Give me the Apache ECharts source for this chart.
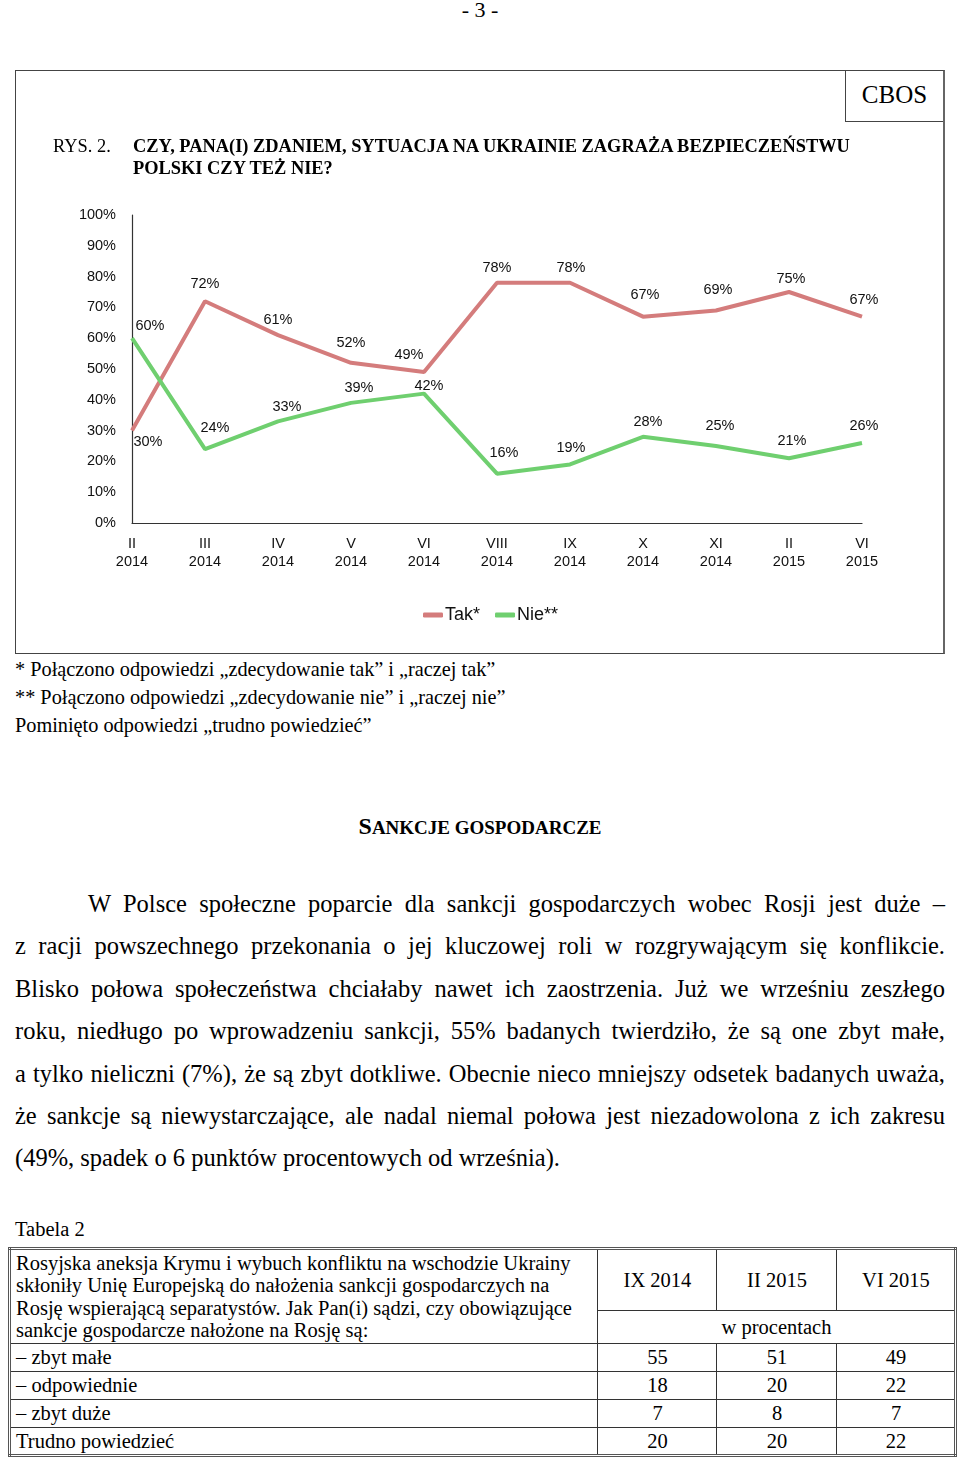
<!DOCTYPE html>
<html>
<head>
<meta charset="utf-8">
<script src="https://cdn.jsdelivr.net/npm/echarts@6/dist/echarts.min.js"></script>
<style>
  html, body { margin:0; padding:0; background:#fff; }
  body { width:960px; height:1460px; position:relative; overflow:hidden; font-family:"Liberation Serif","Times New Roman",serif; color:#000; }
  .abs { position:absolute; }
  #chart { position:absolute; left:0; top:0; width:960px; height:660px; z-index:2; }
  #box { left:15px; top:70px; width:930px; height:584px; border:1.5px solid #444; border-right:2px solid #666; box-sizing:border-box; z-index:1; }
  #cbos { left:845px; top:70px; width:98px; height:52px; border-left:1.5px solid #444; border-bottom:1.5px solid #444; box-sizing:border-box; font-size:25px; text-align:center; line-height:50px; z-index:1; }
  .title { font-size:18.4px; line-height:22px; z-index:3; white-space:nowrap; }
  .foot { left:15px; font-size:20.3px; white-space:nowrap; }
  .para { left:15px; width:930px; font-size:24.5px; }
  .para div { height:42.4px; line-height:42.4px; text-align:justify; text-align-last:justify; white-space:nowrap; }
  .para div.last { text-align-last:left; }
  table { border-collapse:collapse; table-layout:fixed; }
  #tbl { left:8px; top:1247px; width:946px; border:3px double #555; }
  #tbl td { border:1px solid #333; font-size:20.5px; padding:0 4px 0 5px; line-height:22.3px; white-space:nowrap; overflow:hidden; }
  #tbl td.n { text-align:center; }
</style>
</head>
<body>
<div class="abs" style="left:0;width:960px;top:-3px;text-align:center;font-size:22px;">- 3 -</div>
<div id="box" class="abs"></div>
<div id="cbos" class="abs">CBOS</div>
<div class="abs title" style="left:53px;top:135px;">RYS. 2.</div>
<div class="abs title" style="left:133px;top:135px;font-weight:bold;">CZY, PANA(I) ZDANIEM, SYTUACJA NA UKRAINIE ZAGRAŻA BEZPIECZEŃSTWU<br>POLSKI CZY TEŻ NIE?</div>
<div id="chart"></div>

<div class="abs foot" style="top:658px;">* Połączono odpowiedzi „zdecydowanie tak” i „raczej tak”</div>
<div class="abs foot" style="top:686px;">** Połączono odpowiedzi „zdecydowanie nie” i „raczej nie”</div>
<div class="abs foot" style="top:714px;">Pominięto odpowiedzi „trudno powiedzieć”</div>

<div class="abs" style="left:0;width:960px;top:811px;text-align:center;font-weight:bold;line-height:30px;"><span style="font-size:24px;">S</span><span style="font-size:19px;">ANKCJE GOSPODARCZE</span></div>

<div class="abs para" style="top:883px;">
  <div style="padding-left:73px;">W Polsce społeczne poparcie dla sankcji gospodarczych wobec Rosji jest duże –</div>
  <div>z racji powszechnego przekonania o jej kluczowej roli w rozgrywającym się konflikcie.</div>
  <div>Blisko połowa społeczeństwa chciałaby nawet ich zaostrzenia. Już we wrześniu zeszłego</div>
  <div>roku, niedługo po wprowadzeniu sankcji, 55% badanych twierdziło, że są one zbyt małe,</div>
  <div>a tylko nieliczni (7%), że są zbyt dotkliwe. Obecnie nieco mniejszy odsetek badanych uważa,</div>
  <div>że sankcje są niewystarczające, ale nadal niemal połowa jest niezadowolona z ich zakresu</div>
  <div class="last">(49%, spadek o 6 punktów procentowych od września).</div>
</div>

<div class="abs" style="left:15px;top:1218px;font-size:20.5px;">Tabela 2</div>
<table id="tbl" class="abs">
  <colgroup><col style="width:588px"><col style="width:119px"><col style="width:120px"><col style="width:119px"></colgroup>
  <tr style="height:62px;">
    <td rowspan="2" style="vertical-align:middle;">Rosyjska aneksja Krymu i wybuch konfliktu na wschodzie Ukrainy<br>skłoniły Unię Europejską do nałożenia sankcji gospodarczych na<br>Rosję wspierającą separatystów. Jak Pan(i) sądzi, czy obowiązujące<br>sankcje gospodarcze nałożone na Rosję są:</td>
    <td class="n">IX 2014</td><td class="n">II 2015</td><td class="n">VI 2015</td>
  </tr>
  <tr style="height:33px;"><td class="n" colspan="3">w procentach</td></tr>
  <tr style="height:28px;"><td>– zbyt małe</td><td class="n">55</td><td class="n">51</td><td class="n">49</td></tr>
  <tr style="height:28px;"><td>– odpowiednie</td><td class="n">18</td><td class="n">20</td><td class="n">22</td></tr>
  <tr style="height:28px;"><td>– zbyt duże</td><td class="n">7</td><td class="n">8</td><td class="n">7</td></tr>
  <tr style="height:28px;"><td>Trudno powiedzieć</td><td class="n">20</td><td class="n">20</td><td class="n">22</td></tr>
</table>

<script>
// ---- data ----
const months = ['II', 'III', 'IV', 'V', 'VI', 'VIII', 'IX', 'X', 'XI', 'II', 'VI'];
const years  = ['2014', '2014', '2014', '2014', '2014', '2014', '2014', '2014', '2014', '2015', '2015'];
const tak    = [30, 72, 61, 52, 49, 78, 78, 67, 69, 75, 67];
const nie    = [60, 24, 33, 39, 42, 16, 19, 28, 25, 21, 26];
const yTicks = [0, 10, 20, 30, 40, 50, 60, 70, 80, 90, 100];

// ---- label placement (layout only) ----
const takNudge = [[16, 11], [0, -17], [0, -15], [0, -20], [-15, -17], [0, -15], [1, -15], [2, -22], [2, -20], [2, -13], [2, -17]];
const nieNudge = [[18, -12], [10, -21], [9, -14], [8, -15], [5, -8], [7, -21], [1, -16], [5, -15], [4, -20], [3, -17], [2, -17]];

const categories = months.map((m, i) => m + '\n' + years[i]);
const sans = '"Liberation Sans", Arial, sans-serif';

function mkData(vals, nudge) {
  return vals.map((v, i) => ({
    value: v,
    label: { offset: nudge[i] }
  }));
}

const chart = echarts.init(document.getElementById('chart'), null, { renderer: 'canvas' });
chart.setOption({
  animation: false,
  backgroundColor: 'transparent',
  grid: { left: 132, top: 215, width: 730, height: 308, containLabel: false },
  xAxis: {
    type: 'category', data: categories, boundaryGap: false,
    axisLine: { lineStyle: { color: '#333', width: 1.2 } },
    axisTick: { show: false },
    axisLabel: { color: '#111', fontSize: 14.5, fontFamily: sans, lineHeight: 18, margin: 12, interval: 0 }
  },
  yAxis: {
    type: 'value', min: yTicks[0], max: yTicks[yTicks.length - 1], interval: 10,
    axisLine: { show: true, lineStyle: { color: '#333', width: 1.2 } },
    axisTick: { show: false },
    splitLine: { show: false },
    axisLabel: { color: '#111', fontSize: 14.5, fontFamily: sans, margin: 16, formatter: '{value}%' }
  },
  legend: {
    left: 418, top: 601, itemGap: 15, itemWidth: 20, itemHeight: 5,
    icon: 'roundRect',
    textStyle: { fontSize: 18, fontFamily: sans, color: '#111', padding: [0, 0, 0, -3] },
    data: ['Tak*', 'Nie**']
  },
  series: [
    {
      name: 'Tak*', type: 'line', data: mkData(tak, takNudge),
      symbol: 'circle', symbolSize: 0, showSymbol: true,
      lineStyle: { color: '#d47c7c', width: 4 }, itemStyle: { color: '#d47c7c' },
      label: { show: true, position: 'inside', formatter: '{c}%', color: '#111', fontSize: 14.5, fontFamily: sans }
    },
    {
      name: 'Nie**', type: 'line', data: mkData(nie, nieNudge),
      symbol: 'circle', symbolSize: 0, showSymbol: true,
      lineStyle: { color: '#6fcf6f', width: 4 }, itemStyle: { color: '#6fcf6f' },
      label: { show: true, position: 'inside', formatter: '{c}%', color: '#111', fontSize: 14.5, fontFamily: sans }
    }
  ]
});
</script>
</body>
</html>
